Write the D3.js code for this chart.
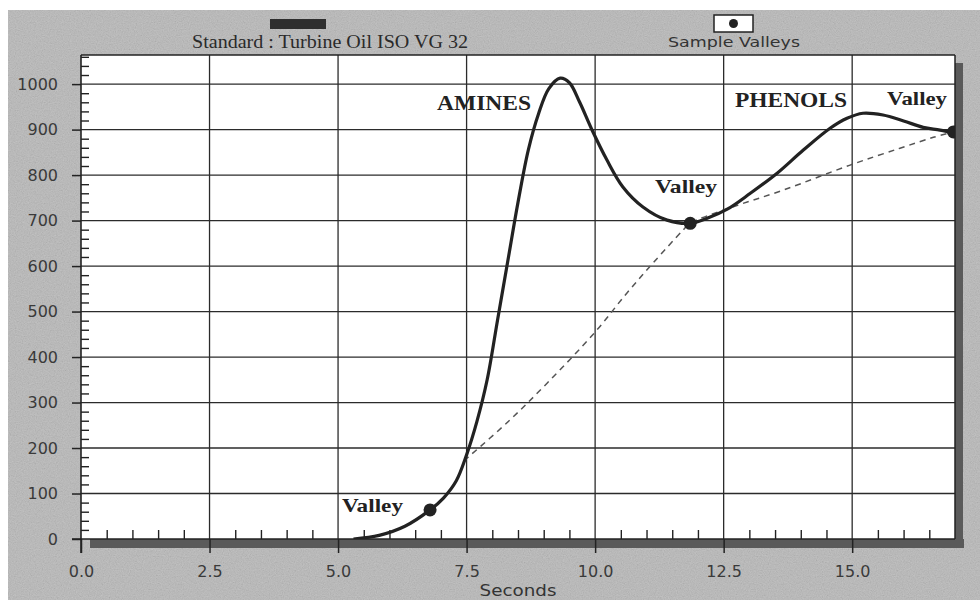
<!DOCTYPE html>
<html>
<head>
<meta charset="utf-8">
<script src="https://cdn.jsdelivr.net/npm/d3@7/dist/d3.min.js"></script>
<style>
  html, body { margin: 0; padding: 0; background: #ffffff; }
  svg { display: block; }
</style>
</head>
<body>
<svg id="chart" width="980" height="600"></svg>
<script>
// ---------------- data ----------------
const timeSec  = [5.3, 5.8, 6.3, 6.79, 7.05, 7.3, 7.5, 7.7, 7.9, 8.1, 8.3, 8.5, 8.7, 8.9, 9.1, 9.32, 9.5, 9.7, 9.94, 10.23, 10.54, 10.93, 11.4, 11.85, 12.18, 12.57, 13.02, 13.54, 14.05, 14.57, 14.9, 15.21, 15.6, 16.0, 16.38, 16.71, 17.0];
const response = [0, 8, 28, 64, 90, 128, 185, 258, 350, 480, 610, 740, 855, 935, 990, 1013, 1003, 960, 899, 833, 774, 730, 701, 694, 705, 725, 760, 804, 855, 903, 925, 936, 932, 919, 905, 899, 892];

const baseTime = [7.45, 8.28, 9.07, 10.0, 10.62, 11.13, 11.71, 11.85, 12.6, 13.66, 14.96, 15.93, 16.58, 16.97];
const baseResp = [172, 255, 343, 455, 541, 607, 679, 694, 727, 767, 822, 859, 883, 895];

const valleyTime = [6.79, 11.85, 16.97];
const valleyResp = [64, 694, 895];

const xMajorTicks = [0, 2.5, 5, 7.5, 10, 12.5, 15];
const yMajorTicks = [0, 100, 200, 300, 400, 500, 600, 700, 800, 900, 1000];

const legendStandard = "Standard : Turbine Oil ISO VG 32";
const legendValleys = "Sample Valleys";
const xTitle = "Seconds";

// ---------------- layout ----------------
const svg = d3.select("#chart");
const L = 81, R = 955, T = 55, B = 539;
const x = d3.scaleLinear().domain([0, 17]).range([L, R]);
const y = d3.scaleLinear().domain([0, 1064]).range([B, T]);

const defs = svg.append("defs");
const f = defs.append("filter").attr("id", "grain").attr("x", 0).attr("y", 0).attr("width", "100%").attr("height", "100%");
f.append("feTurbulence").attr("type", "fractalNoise").attr("baseFrequency", 0.85).attr("numOctaves", 2).attr("seed", 4);
f.append("feColorMatrix").attr("type", "matrix")
  .attr("values", "0.33 0.33 0.33 0 0  0.33 0.33 0.33 0 0  0.33 0.33 0.33 0 0  0 0 0 0 0.25");
defs.append("clipPath").attr("id", "plotClip").append("rect")
  .attr("x", L).attr("y", T).attr("width", R - L).attr("height", B - T);

// gray panel background
svg.append("rect").attr("x", 8).attr("y", 10).attr("width", 972).attr("height", 590).attr("fill", "#b8b8b8");
svg.append("rect").attr("x", 8).attr("y", 10).attr("width", 972).attr("height", 590).attr("filter", "url(#grain)");

// shadow
svg.append("rect").attr("x", L + 9).attr("y", B).attr("width", R - L).attr("height", 9).attr("fill", "#5a5a5a");
svg.append("rect").attr("x", R).attr("y", T + 8).attr("width", 8).attr("height", B - T + 1).attr("fill", "#5a5a5a");

// plot area
svg.append("rect").attr("x", L).attr("y", T).attr("width", R - L).attr("height", B - T).attr("fill", "#ffffff");

// grid
const gridColor = "#2b2b2b";
svg.append("g").selectAll("line").data(yMajorTicks.filter(d => d > 0)).join("line")
  .attr("x1", L).attr("x2", R).attr("y1", d => y(d)).attr("y2", d => y(d))
  .attr("stroke", gridColor).attr("stroke-width", 1.3);
svg.append("g").selectAll("line").data(xMajorTicks.filter(d => d > 0)).join("line")
  .attr("x1", d => x(d)).attr("x2", d => x(d)).attr("y1", T).attr("y2", B)
  .attr("stroke", gridColor).attr("stroke-width", 1.3);

// frame top/right
svg.append("line").attr("x1", L).attr("x2", R).attr("y1", T).attr("y2", T).attr("stroke", "#222").attr("stroke-width", 1.5);
svg.append("line").attr("x1", R).attr("x2", R).attr("y1", T).attr("y2", B).attr("stroke", "#222").attr("stroke-width", 1.5);

// minor ticks
const xMinor = d3.range(0.5, 17, 0.5).filter(v => Math.abs(v / 2.5 - Math.round(v / 2.5)) > 1e-6);
const yMinor = d3.range(20, 1061, 20).filter(v => v % 100 !== 0);

const axisFont = "'DejaVu Sans', Verdana, sans-serif";

const gxMinor = svg.append("g").attr("transform", `translate(0,${B})`)
  .call(d3.axisBottom(x).tickValues(xMinor).tickSize(-9).tickFormat(""));
gxMinor.select(".domain").remove();
gxMinor.selectAll("line").attr("stroke", "#222").attr("stroke-width", 1.4);

const gyMinor = svg.append("g").attr("transform", `translate(${L},0)`)
  .call(d3.axisLeft(y).tickValues(yMinor).tickSize(-8).tickFormat(""));
gyMinor.select(".domain").remove();
gyMinor.selectAll("line").attr("stroke", "#222").attr("stroke-width", 1.4);

// major axes
const gx = svg.append("g").attr("transform", `translate(0,${B})`)
  .call(d3.axisBottom(x).tickValues(xMajorTicks).tickSize(14).tickPadding(13).tickFormat(d3.format(".1f")));
gx.select(".domain").remove();
gx.selectAll("line").attr("stroke", "#222").attr("stroke-width", 1.5);
gx.selectAll("text").attr("font-family", axisFont).attr("font-size", 16).attr("fill", "#3a3a3a");

const gy = svg.append("g").attr("transform", `translate(${L},0)`)
  .call(d3.axisLeft(y).tickValues(yMajorTicks).tickSize(9).tickPadding(14).tickFormat(d3.format("d")));
gy.select(".domain").remove();
gy.selectAll("line").attr("stroke", "#222").attr("stroke-width", 1.5);
gy.selectAll("text").attr("font-family", axisFont).attr("font-size", 16).attr("fill", "#3a3a3a");

// axis lines
svg.append("line").attr("x1", L - 9).attr("x2", R).attr("y1", B).attr("y2", B).attr("stroke", "#222").attr("stroke-width", 1.6);
svg.append("line").attr("x1", L).attr("x2", L).attr("y1", T).attr("y2", B + 14).attr("stroke", "#222").attr("stroke-width", 1.6);

// x title
svg.append("text").attr("x", 518).attr("y", 596).attr("text-anchor", "middle")
  .attr("font-family", axisFont).attr("font-size", 15).attr("fill", "#333")
  .attr("textLength", 77).attr("lengthAdjust", "spacingAndGlyphs").text(xTitle);

// series
const plot = svg.append("g").attr("clip-path", "url(#plotClip)");

const basePts = baseTime.map((t, i) => [t, baseResp[i]]);
plot.append("path").datum(basePts)
  .attr("d", d3.line().x(d => x(d[0])).y(d => y(d[1])).curve(d3.curveCatmullRom))
  .attr("fill", "none").attr("stroke", "#555").attr("stroke-width", 1.5).attr("stroke-dasharray", "6,5");

const pts = timeSec.map((t, i) => [t, response[i]]);
plot.append("path").datum(pts)
  .attr("d", d3.line().x(d => x(d[0])).y(d => y(d[1])).curve(d3.curveCatmullRom))
  .attr("fill", "none").attr("stroke", "#222").attr("stroke-width", 3.2).attr("stroke-linejoin", "round");

plot.append("g").selectAll("circle").data(valleyTime.map((t, i) => [t, valleyResp[i]])).join("circle")
  .attr("cx", d => x(d[0])).attr("cy", d => y(d[1])).attr("r", 6.5).attr("fill", "#222");

// annotations
const serif = "'Liberation Serif', 'Times New Roman', serif";
const notes = [
  { t: "AMINES",  px: 437, py: 110, w: 94,  fs: 20 },
  { t: "PHENOLS", px: 735, py: 107, w: 112, fs: 20 },
  { t: "Valley",  px: 887, py: 105, w: 60,  fs: 19 },
  { t: "Valley",  px: 655, py: 193, w: 62,  fs: 19 },
  { t: "Valley",  px: 342, py: 512, w: 61,  fs: 19 }
];
svg.append("g").selectAll("text").data(notes).join("text")
  .attr("x", d => d.px).attr("y", d => d.py)
  .attr("font-family", serif).attr("font-weight", "bold").attr("font-size", d => d.fs)
  .attr("fill", "#222").attr("textLength", d => d.w).attr("lengthAdjust", "spacingAndGlyphs")
  .text(d => d.t);

// legend
svg.append("rect").attr("x", 270).attr("y", 19).attr("width", 56).attr("height", 10).attr("fill", "#2e2e2e");
svg.append("text").attr("x", 192).attr("y", 48).attr("font-family", serif).attr("font-size", 18)
  .attr("fill", "#2a2a2a").attr("textLength", 276).attr("lengthAdjust", "spacingAndGlyphs").text(legendStandard);

svg.append("rect").attr("x", 714).attr("y", 15).attr("width", 39).attr("height", 17)
  .attr("fill", "#fff").attr("stroke", "#222").attr("stroke-width", 1.5);
svg.append("circle").attr("cx", 733.5).attr("cy", 23.5).attr("r", 4.5).attr("fill", "#222");
svg.append("text").attr("x", 668).attr("y", 47).attr("font-family", axisFont).attr("font-size", 14)
  .attr("fill", "#333").attr("textLength", 132).attr("lengthAdjust", "spacingAndGlyphs").text(legendValleys);
</script>
</body>
</html>
